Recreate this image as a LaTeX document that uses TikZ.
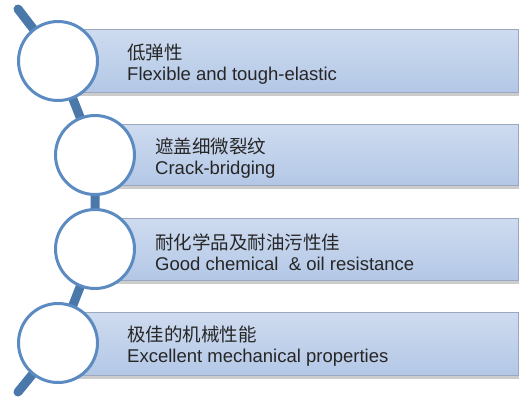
\documentclass[tikz,border=0pt]{standalone}
\usepackage{fontspec}
\setmainfont{Liberation Sans}
\newfontfamily\cjk{Noto Sans CJK SC}
\usepackage{tikz}
\usetikzlibrary{
  calc,
  shadows
}
\definecolor{stemblue}{HTML}{4B78AA}
\definecolor{ringblue}{HTML}{5B8BC0}
\definecolor{bartop}{HTML}{DCE5F4}
\definecolor{barlow}{HTML}{AAC1E3}
\definecolor{barband}{HTML}{7693C4}
\definecolor{baredge}{HTML}{9AA9C0}
\pgfdeclareverticalshading{barshade}{100bp}{
  color(0bp)=(barband); color(5bp)=(barband); color(8bp)=(barlow);
  color(100bp)=(bartop)}
\pgfdeclarelayer{bg}
\pgfdeclarelayer{mid}
\pgfsetlayers{bg,mid,main}
\tikzset{
  stem/.style={
    draw=stemblue,
    line width=9pt,
    line cap=round},
  ring/.style={
    circle,
    fill=white,
    draw=ringblue,
    line width=3pt,
    minimum size=79pt,
    inner sep=0pt},
  bar/.style={
    rectangle,
    anchor=west,
    shading=barshade,
    draw=baredge,
    line width=0.8pt,
    inner sep=0pt,
    drop shadow={opacity=0.4,shadow xshift=1pt,shadow yshift=-3.5pt}},
  label/.style={
    anchor=west,
    align=left,
    text=black!85,
    inner sep=0pt,
    font=\fontsize{18.5}{20.5}\selectfont}
  }
\begin{document}
\begin{tikzpicture}[x=1pt,y=-1pt]
    \useasboundingbox (0,0) rectangle (520,400);
    \node[ring] (c1) at (58,61) {};
    \node[ring] (c2) at (95,155) {};
    \node[ring] (c3) at (95,249) {};
    \node[ring] (c4) at (58,343) {};
    \coordinate (top) at (18,9);
    \coordinate (bot) at (18,392);
    \begin{pgfonlayer}{mid}
    \node[bar, minimum width=460pt, minimum height=63pt] (b1) at (58,60.5) {};
    \node[bar, minimum width=423pt, minimum height=61pt] (b2) at (95,154.5) {};
    \node[bar, minimum width=423pt, minimum height=62pt] (b3) at (95,249) {};
    \node[bar, minimum width=460pt, minimum height=63pt] (b4) at (58,343.5) {};
    \end{pgfonlayer}
    \begin{pgfonlayer}{bg}
    \draw[stem]
    (top) -- (c1.center)
    (c1.center) -- (c2.center)
    (c2.center) -- (c3.center)
    (c3.center) -- (c4.center)
    (c4.center) -- (bot);
    \end{pgfonlayer}
    \node[label] (t1) at (127,64) {{\cjk 低弹性}\\Flexible and tough-elastic};
    \node[label] (t2) at (155,158) {{\cjk 遮盖细微裂纹}\\Crack-bridging};
    \node[label] (t3) at (155,252) {{\cjk 耐化学品及耐油污性佳}\\Good chemical \ \& oil resistance};
    \node[label] (t4) at (127,346) {{\cjk 极佳的机械性能}\\Excellent mechanical properties};
  \end{tikzpicture}
\end{document}
